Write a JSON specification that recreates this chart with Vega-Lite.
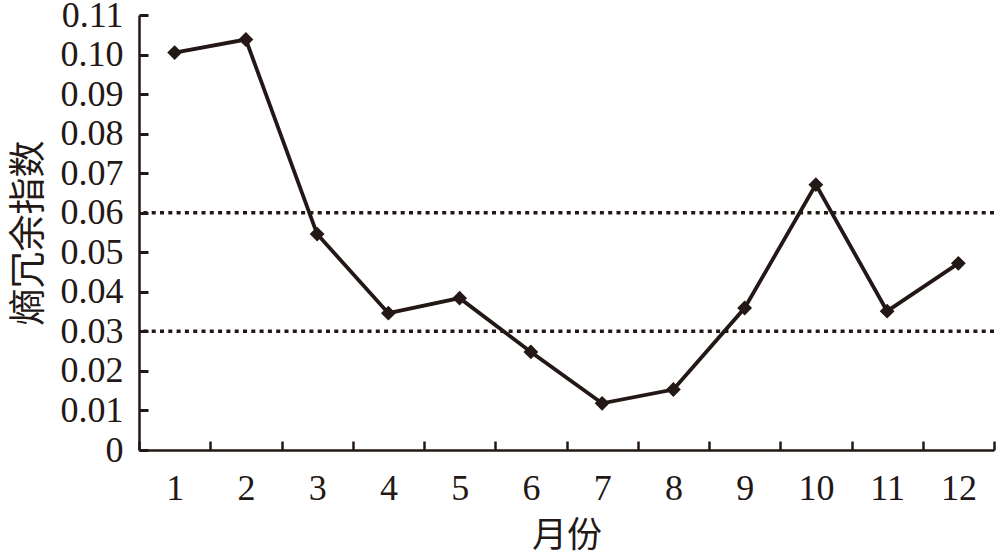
{
  "$schema": "https://vega.github.io/schema/vega-lite/v6.json",
  "autosize": "none",
  "width": 855,
  "height": 435,
  "padding": {"left": 139, "top": 15, "right": 6, "bottom": 104},
  "background": "white",
  "config": {
    "view": {"stroke": null},
    "axis": {"grid": false, "ticks": true, "domainColor": "#231815", "tickColor": "#231815", "labelColor": "#231815", "titleColor": "#231815", "domainWidth": 2.5, "tickWidth": 2.5}
  },
  "datasets": {
    "series": [
      {"month": 1, "value": 0.1005},
      {"month": 2, "value": 0.1038},
      {"month": 3, "value": 0.0546},
      {"month": 4, "value": 0.0346},
      {"month": 5, "value": 0.0384},
      {"month": 6, "value": 0.0248},
      {"month": 7, "value": 0.0118},
      {"month": 8, "value": 0.0153},
      {"month": 9, "value": 0.0359},
      {"month": 10, "value": 0.0671},
      {"month": 11, "value": 0.0351},
      {"month": 12, "value": 0.0472}
    ],
    "thresholds": [{"value": 0.06}, {"value": 0.03}]
  },
  "encoding": {
    "y": {
      "field": "value", "type": "quantitative",
      "scale": {"domain": [0, 0.11], "nice": false, "zero": true},
      "axis": {
        "values": [0, 0.01, 0.02, 0.03, 0.04, 0.05, 0.06, 0.07, 0.08, 0.09, 0.1, 0.11],
        "labelExpr": "datum.value == 0 ? '0' : format(datum.value, '.2f')",
        "ticks": true,
        "tickSize": -9,
        "tickWidth": 3,
        "labelPadding": 25,
        "labelFont": "Liberation Serif", "labelFontSize": 36, "labelFlush": false, "labelOverlap": false,
        "title": "熵冗余指数", "titleFont": "Noto Sans CJK SC", "titleFontSize": 37, "titleFontWeight": "normal", "titlePadding": 12
      }
    }
  },
  "layer": [
    {
      "data": {"name": "thresholds"},
      "mark": {"type": "rule", "color": "#231815", "strokeWidth": 3.5, "strokeDash": [4, 4.3], "clip": false}
    },
    {
      "data": {"name": "series"},
      "mark": {"type": "line", "color": "#231815", "strokeWidth": 3.8, "point": {"shape": "diamond", "size": 220, "filled": true, "color": "#231815", "opacity": 1}},
      "encoding": {
        "x": {
          "field": "month", "type": "quantitative",
          "scale": {"domain": [0.5, 12.5], "nice": false, "zero": false},
          "axis": {
            "values": [0.5, 1, 1.5, 2, 2.5, 3, 3.5, 4, 4.5, 5, 5.5, 6, 6.5, 7, 7.5, 8, 8.5, 9, 9.5, 10, 10.5, 11, 11.5, 12, 12.5],
            "labelExpr": "datum.value % 1 ? '' : format(datum.value, 'd')",
            "tickOpacity": {"expr": "datum.value % 1 ? 1 : 0"},
            "tickSize": -9,
            "labelPadding": 30,
            "labelFont": "Liberation Serif", "labelFontSize": 36, "labelFlush": false, "labelOverlap": false,
            "title": "月份", "titleFont": "Noto Sans CJK SC", "titleFontSize": 35, "titleFontWeight": "normal", "titlePadding": 12
          }
        }
      }
    }
  ]
}
